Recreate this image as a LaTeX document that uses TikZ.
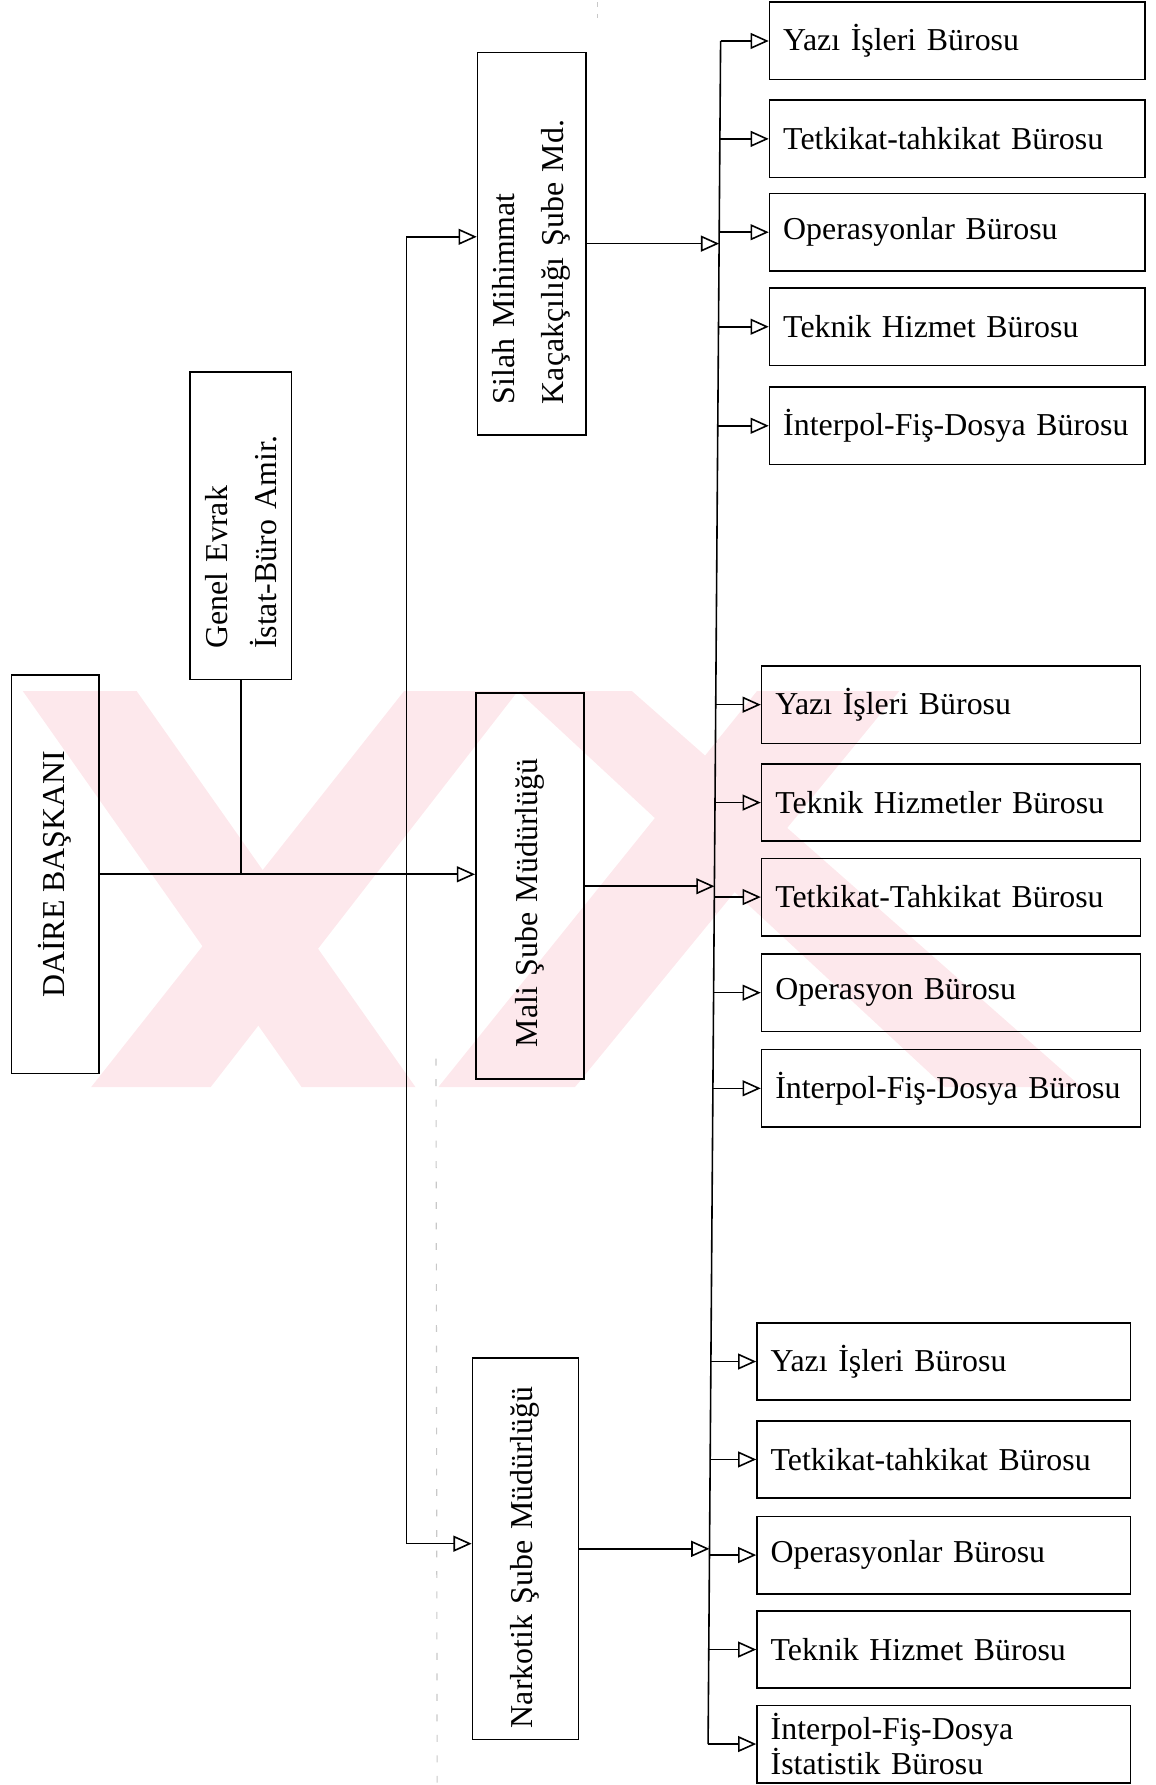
\documentclass[tikz,border=0pt]{standalone}
\usepackage{fontspec}
\setmainfont{Liberation Serif}
\usetikzlibrary{arrows.meta}

\definecolor{wmpink}{RGB}{253,232,236}
\definecolor{speck}{RGB}{200,200,200}

\newcommand{\boxfont}{\fontsize{14pt}{17pt}\selectfont}
\newcommand{\twofont}{\fontsize{14pt}{21.5pt}\selectfont}

\tikzset{
  ln/.style={line width=0.7pt},
  arr/.style={ln, -{Triangle[open, length=8pt, width=7pt]}},
  vbox/.style={draw, ln, rotate=90, inner sep=0pt, font=\boxfont},
  vleft/.style={draw, ln, rotate=90, inner ysep=0pt, align=left, font=\boxfont},
  vtwo/.style={draw, ln, rotate=90, inner ysep=0pt, inner xsep=13.5pt,
               align=left, font=\twofont},
  office/.style={draw, ln, minimum height=34pt, inner ysep=0pt, inner xsep=6pt,
                 align=left, font=\boxfont, text width=#1},
  office/.default=153pt
}

\begin{document}
\begin{tikzpicture}[x=0.5pt, y=-0.5pt]
\useasboundingbox (0,0) rectangle (1015,1568);

% background emblem
\fill[wmpink] (20,607) -- (120,607) -- (365,955) -- (265,955) -- cycle;
\fill[wmpink] (80,955) -- (185,955) -- (455,607) -- (355,607) -- cycle;
\fill[wmpink] (385,955) -- (505,955) -- (790,607) -- (665,607) -- cycle;
\fill[wmpink] (455,607) -- (555,607) -- (950,955) -- (830,955) -- cycle;

% faint scan marks
\draw[speck, line width=0.5pt, dash pattern=on 3pt off 6pt] (383,930) -- (384,1568);
\draw[speck, line width=0.5pt, dash pattern=on 2pt off 3pt] (525,2) -- (525,20);

% head and staff
\node[vbox, minimum width=175pt, minimum height=38.5pt] (daire) at (48.5,768) {DAİRE BAŞKANI};
\node[vtwo, text width=108pt, minimum height=44.5pt] (genel) at (211.5,462)
  {Genel Evrak\\İstat-Büro Amir.};

% branch directorates
\node[vtwo, text width=141pt, minimum height=47.5pt] (silah) at (467,214)
  {Silah Mihimmat\\Kaçakçılığı Şube Md.};
\node[vleft, inner xsep=14pt, text width=141.5pt, minimum height=47.5pt] (mali) at (465.5,778.5)
  {Mali Şube Müdürlüğü};
\node[vleft, inner xsep=5pt, text width=157.5pt, minimum height=46.5pt] (nark) at (461.5,1360.5)
  {Narkotik Şube Müdürlüğü};

% offices of the first branch
\node[office] (s1) at (841,36)  {Yazı İşleri Bürosu};
\node[office] (s2) at (841,122) {Tetkikat-tahkikat Bürosu};
\node[office] (s3) at (841,204) {Operasyonlar Bürosu};
\node[office] (s4) at (841,287) {Teknik Hizmet Bürosu};
\node[office] (s5) at (841,374) {İnterpol-Fiş-Dosya Bürosu};

% offices of the second branch
\node[office=154.5pt] (m1) at (835.5,619) {Yazı İşleri Bürosu};
\node[office=154.5pt] (m2) at (835.5,705) {Teknik Hizmetler Bürosu};
\node[office=154.5pt] (m3) at (835.5,788) {Tetkikat-Tahkikat Bürosu};
\node[office=154.5pt] (m4) at (835.5,872) {Operasyon Bürosu};
\node[office=154.5pt] (m5) at (835.5,956) {İnterpol-Fiş-Dosya Bürosu};

% offices of the third branch
\node[office=152pt] (n1) at (829,1196) {Yazı İşleri Bürosu};
\node[office=152pt] (n2) at (829,1282) {Tetkikat-tahkikat Bürosu};
\node[office=152pt] (n3) at (829,1366) {Operasyonlar Bürosu};
\node[office=152pt] (n4) at (829,1449) {Teknik Hizmet Bürosu};
\node[office=152pt, font={\fontsize{14pt}{15.5pt}\selectfont}] (n5) at (829,1532)
  {İnterpol-Fiş-Dosya\\İstatistik Bürosu};

% trunk from the head to the branches
\coordinate (trTop) at (357,208);
\coordinate (trBot) at (357,1356);
\draw[ln] (trTop) -- (trBot);
\draw[arr] (trTop) -- (silah.north |- trTop);
\draw[arr] (trBot) -- (nark.north |- trBot);
\draw[arr] (daire.south) -- (mali.north |- daire.south);
\draw[ln] (genel.west) -- (genel.west |- daire.south);

% common office bus
\coordinate (busTop) at (633,36);
\coordinate (busBot) at (622,1532);
\draw[ln] (busTop) -- (busBot);

% branch to bus
\coordinate (bS) at (631.7,214);
\coordinate (bM) at (627.6,778.5);
\coordinate (bN) at (623.2,1360.5);
\draw[arr] (silah.south) -- (bS);
\draw[arr] (mali.south) -- (bM);
\draw[arr] (nark.south) -- (bN);

% bus to offices
\foreach \o/\bx in {s1/633, s2/632.4, s3/631.8, s4/631.2, s5/630.5,
                    m1/628.7, m2/628.1, m3/627.5, m4/626.9, m5/626.3,
                    n1/624.5, n2/623.9, n3/623.3, n4/622.7, n5/622.1}
  \draw[arr] (\bx,0 |- \o.west) -- (\o.west);

\end{tikzpicture}
\end{document}
